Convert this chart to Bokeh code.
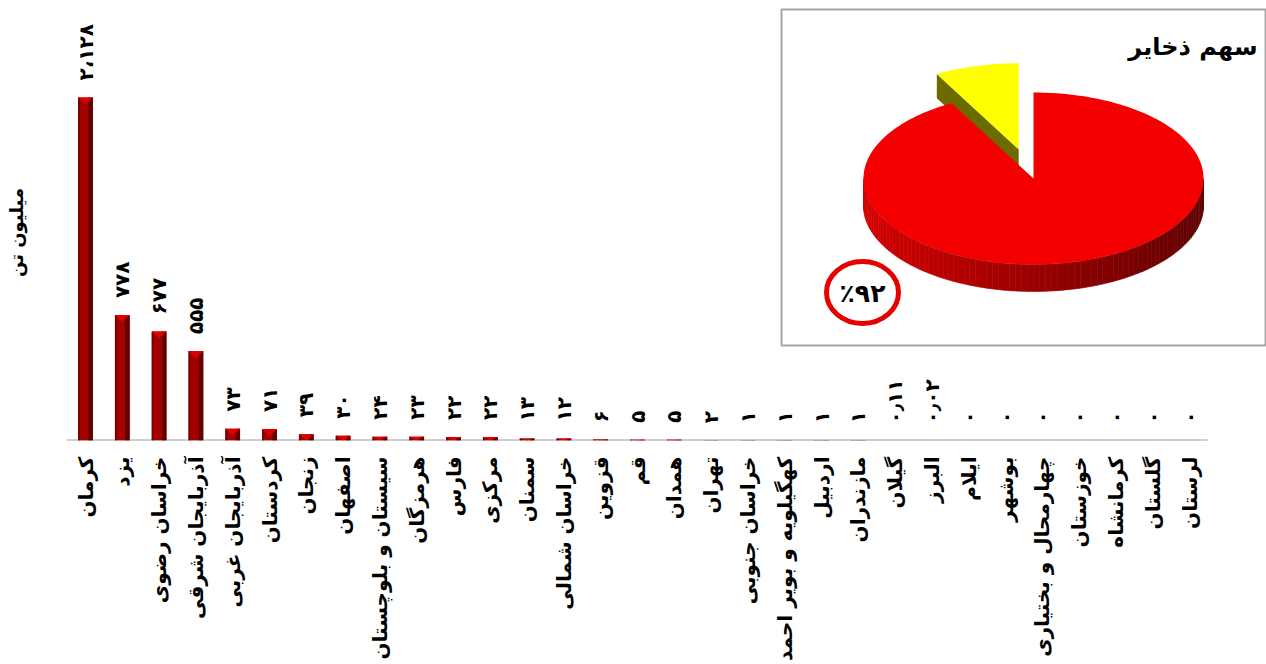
import numpy as np
from bokeh.plotting import figure
from bokeh.models import Range1d, FixedTicker, ColumnDataSource
from bokeh.core.properties import value
from bokeh.transform import dodge
from bokeh.embed import file_html
from bokeh.resources import INLINE

# ---------------- data ----------------
provinces = [
    "کرمان", "یزد", "خراسان رضوی", "آذربایجان شرقی", "آذربایجان غربی",
    "کردستان", "زنجان", "اصفهان", "سیستان و بلوچستان", "هرمزگان",
    "فارس", "مرکزی", "سمنان", "خراسان شمالی", "قزوین", "قم", "همدان",
    "تهران", "خراسان جنوبی", "کهگیلویه و بویر احمد", "اردبیل", "مازندران",
    "گیلان", "البرز", "ایلام", "بوشهر", "چهارمحال و بختیاری", "خوزستان",
    "کرمانشاه", "گلستان", "لرستان",
]
reserves = [
    2128, 778, 677, 555, 73, 71, 39, 30, 24, 23, 22, 22, 13, 12, 6, 5, 5,
    2, 1, 1, 1, 1, 0.11, 0.02, 0, 0, 0, 0, 0, 0, 0,
]
pie_shares = [92, 8]          # percent: main share (red), rest (yellow)
pie_title = "سهم ذخایر"
y_title = "میلیون تن"

FONT = "DejaVu Sans"
FA = str.maketrans("0123456789", "۰۱۲۳۴۵۶۷۸۹")


def fa(v):
    if float(v).is_integer():
        s = f"{int(v):,}".replace(",", "،")
    else:
        s = f"{v:.2f}".replace(".", "٫")
    return s.translate(FA)


n = len(provinces)
idx = list(range(n))

W, H = 1266, 664
BOTTOM = 224
FRAME_H = H - BOTTOM
step = 36.8
x0 = -85 / step
YMAX = 2730
px_per_unit = FRAME_H / YMAX

p = figure(width=W, height=H, output_backend="svg", toolbar_location=None,
           x_range=Range1d(x0, x0 + W / step),
           y_range=Range1d(0, YMAX), y_axis_location=None,
           min_border_left=0, min_border_right=0, min_border_top=0,
           min_border_bottom=BOTTOM)
p.outline_line_color = None
p.xgrid.grid_line_color = None
p.ygrid.grid_line_color = None
p.background_fill_color = "white"
p.border_fill_color = "white"

src = ColumnDataSource(dict(x=idx, top=reserves, label=[fa(v) for v in reserves]))

# baseline
p.segment(x0=[-0.5], x1=[n - 0.5], y0=[0], y1=[0], line_color="#A0A0A0", line_width=2)

# bars (pseudo 3D)
p.vbar(x="x", top="top", width=0.4, bottom=0, fill_color="#A30000", line_color=None, source=src)
p.vbar(x=dodge("x", 0.14, range=p.x_range), top="top", width=0.12, bottom=0,
       fill_color="#620000", line_color=None, source=src)
p.vbar(x=dodge("x", -0.175, range=p.x_range), top="top", width=0.05, bottom=0,
       fill_color="#7A0000", line_color=None, source=src)

# bevel triangle at the top of each bar
bev = 7 / px_per_unit
txs, tys = [], []
for i, v in zip(idx, reserves):
    if v <= 0:
        continue
    txs.append([i - 0.2, i + 0.2, i])
    tys.append([v, v, max(v - bev, 0)])
p.patches(xs=txs, ys=tys, fill_color="#DC0000", line_color=None)

# value labels
p.text(x="x", y="top", text="label", angle=np.pi / 2, text_align="left",
       text_baseline="middle", y_offset=-17, text_font=value(FONT),
       text_font_style="bold", text_font_size="20px", text_color="black", source=src)

# x axis with province names
p.xaxis.ticker = FixedTicker(ticks=idx)
p.xaxis.major_label_overrides = {i: name for i, name in enumerate(provinces)}
p.xaxis.major_label_orientation = np.pi / 2
p.xaxis.major_label_text_font = FONT
p.xaxis.major_label_text_font_style = "bold"
p.xaxis.major_label_text_font_size = "20px"
p.xaxis.major_label_text_color = "black"
p.xaxis.major_label_standoff = 10
p.xaxis.major_tick_line_color = None
p.xaxis.minor_tick_line_color = None
p.xaxis.axis_line_color = None

# ---------------- pixel-like coordinates for title & inset ----------------
p.extra_x_ranges = {"px": Range1d(0, W)}
p.extra_y_ranges = {"py": Range1d(FRAME_H, 0)}
kw = dict(x_range_name="px", y_range_name="py")

p.text(x=[16], y=[232], text=[y_title], angle=np.pi / 2, text_align="center",
       text_baseline="middle", text_font=value(FONT), text_font_style="bold",
       text_font_size="18px", text_color="black", **kw)

p.quad(left=[781], right=[1265], top=[9], bottom=[345], fill_color="white",
       line_color="#A6A6A6", line_width=2, **kw)

cx, cy, rx, ry, depth = 1033.0, 178.0, 170.0, 86.0, 27.0
main_frac = pie_shares[0] / sum(pie_shares)
rest_frac = pie_shares[1] / sum(pie_shares)


def pt(ccx, ccy, deg):
    t = np.radians(deg)
    return ccx + rx * np.cos(t), ccy - ry * np.sin(t)


# yellow exploded slice (drawn first: it lies behind)
a0, a1 = 90.0, 90.0 + 360 * rest_frac
bis = np.radians((a0 + a1) / 2)
ex = 0.35
ycx, ycy = cx + ex * rx * np.cos(bis), cy - ex * ry * np.sin(bis)
ax_, ay_ = pt(ycx, ycy, a1)
p.patch([ycx, ax_, ax_, ycx], [ycy, ay_, ay_ + depth * 0.9, ycy + depth * 0.9],
        fill_color="#6B6B00", line_color=None, **kw)
th = np.linspace(a0, a1, 40)
yx, yy = pt(ycx, ycy, th)
p.patch([ycx] + list(yx), [ycy] + list(yy), fill_color="#FFFF00", line_color=None, **kw)

# red side wall with shading
xs, ys, cols = [], [], []
edges = np.linspace(180, 360, 91)
for a, b in zip(edges[:-1], edges[1:]):
    xa, ya = pt(cx, cy, a)
    xb, yb = pt(cx, cy, b)
    t = ((xa + xb) / 2 - (cx - rx)) / (2 * rx)
    r = int(212 - 115 * t)
    cols.append(f"#{r:02x}0000")
    xs.append([xa, xb, xb, xa])
    ys.append([ya, yb, yb + depth, ya + depth])
p.patches(xs="xs", ys="ys", fill_color="c", line_color="c", line_width=0.6,
          source=ColumnDataSource(dict(xs=xs, ys=ys, c=cols)), **kw)

# red top face
th = np.linspace(90, 90 - 360 * main_frac, 300)
rxs, rys = pt(cx, cy, th)
p.patch([cx] + list(rxs), [cy] + list(rys), fill_color="#F40000", line_color=None, **kw)

# title & share label
p.text(x=[1257], y=[46], text=[pie_title], text_align="right", text_baseline="middle",
       text_font=value(FONT), text_font_style="bold", text_font_size="24px",
       text_color="black", **kw)
p.ellipse(x=[862], y=[292], width=[72], height=[62], fill_color=None,
          line_color="#E60000", line_width=5, **kw)
p.text(x=[862], y=[293], text=["٪" + fa(pie_shares[0])], text_align="center",
       text_baseline="middle", text_font=value(FONT), text_font_style="bold",
       text_font_size="25px", text_color="black", **kw)

open("out.html", "w").write(file_html(p, INLINE))
